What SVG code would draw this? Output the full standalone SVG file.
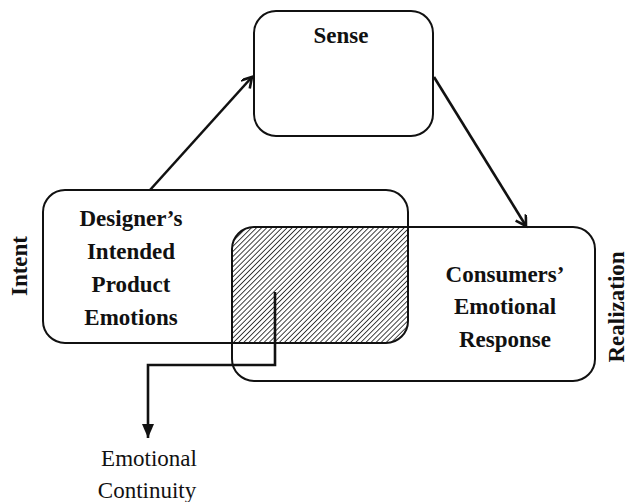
<svg xmlns="http://www.w3.org/2000/svg" width="628" height="502" viewBox="0 0 628 502">
<style>
.box{fill:none;stroke:#111;stroke-width:2}
.b{font-family:"Liberation Serif",serif;font-weight:bold;font-size:23px;fill:#111;text-anchor:middle}
.r{font-family:"Liberation Serif",serif;font-size:23px;fill:#111;text-anchor:middle}
.con{fill:none;stroke:#111;stroke-width:2.6}
</style>
<defs>
<pattern id="hatch" width="3.6" height="3.6" patternUnits="userSpaceOnUse" patternTransform="rotate(45)">
<rect width="3.6" height="3.6" fill="#fff"/>
<line x1="0" y1="0" x2="0" y2="3.6" stroke="#222" stroke-width="1.7"/>
</pattern>
<marker id="open" markerWidth="14" markerHeight="14" refX="11" refY="6" orient="auto" markerUnits="userSpaceOnUse">
<path d="M1,0 L11,6 L1,12" fill="none" stroke="#111" stroke-width="2.6"/>
</marker>
<marker id="solid" markerWidth="16" markerHeight="16" refX="14" refY="6" orient="auto" markerUnits="userSpaceOnUse">
<path d="M0,0 L14,6 L0,12 Z" fill="#111"/>
</marker>
<clipPath id="clipL"><rect x="43" y="190" width="365" height="153" rx="22"/></clipPath>
</defs>
<rect width="628" height="502" fill="#fff"/>
<g id="overlap">
<rect x="232" y="227" width="363" height="154" rx="22" fill="url(#hatch)" clip-path="url(#clipL)"/>
</g>
<g id="sense">
<rect class="box" x="254" y="11" width="179" height="125" rx="22"/>
<text class="b" x="341" y="43">Sense</text>
</g>
<g id="designer">
<rect class="box" x="43" y="190" width="365" height="153" rx="22"/>
<text class="b" x="131" y="226">Designer’s</text>
<text class="b" x="131" y="259">Intended</text>
<text class="b" x="131" y="292">Product</text>
<text class="b" x="131" y="325">Emotions</text>
</g>
<g id="consumer">
<rect class="box" x="232" y="227" width="363" height="154" rx="22"/>
<text class="b" x="505" y="282">Consumers’</text>
<text class="b" x="505" y="314">Emotional</text>
<text class="b" x="505" y="347">Response</text>
</g>
<g id="intent">
<text class="b" transform="translate(27,266) rotate(-90)">Intent</text>
</g>
<g id="realization">
<text class="b" transform="translate(624,307) rotate(-90)">Realization</text>
</g>
<g id="continuity">
<text class="r" x="149" y="466">Emotional</text>
<text class="r" x="147" y="498">Continuity</text>
</g>
<g id="connectors">
<line class="con" x1="150" y1="190" x2="252" y2="77" marker-end="url(#open)"/>
<line class="con" x1="434" y1="77" x2="526" y2="226" marker-end="url(#open)"/>
<polyline class="con" points="275,292 275,365 148,365 148,438" marker-end="url(#solid)"/>
</g>
</svg>
